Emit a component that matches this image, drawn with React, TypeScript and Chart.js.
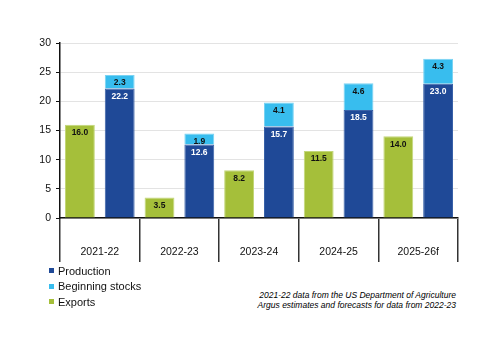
import React, { useEffect, useRef } from "react";
import { Chart, registerables } from "chart.js";

Chart.register(...registerables);

const categories = ["2021-22", "2022-23", "2023-24", "2024-25", "2025-26f"];
const exportsData = [16.0, 3.5, 8.2, 11.5, 14.0];
const production = [22.2, 12.6, 15.7, 18.5, 23.0];
const beginningStocks = [2.3, 1.9, 4.1, 4.6, 4.3];
const yTicks = [0, 5, 10, 15, 20, 25, 30];

const GREEN = "#a5bf3a";
const DARK = "#1f4997";
const LIGHT = "#38bdee";
const FONT = "'Liberation Sans', Arial, sans-serif";

const labelPlugin = {
  id: "barValueLabels",
  afterDatasetsDraw(chart: any) {
    const ctx = chart.ctx;
    ctx.save();
    ctx.font = `bold 8.5px ${FONT}`;
    ctx.textAlign = "center";
    ctx.textBaseline = "middle";
    chart.data.datasets.forEach((ds: any, i: number) => {
      const meta = chart.getDatasetMeta(i);
      meta.data.forEach((bar: any, j: number) => {
        const v = ds.data[j];
        ctx.fillStyle = ds.labelColor;
        ctx.fillText(v.toFixed(1), bar.x, bar.y + 8);
      });
    });
    ctx.restore();
  },
};

export default function App() {
  const ref = useRef<HTMLCanvasElement>(null);
  useEffect(() => {
    document.body.style.margin = "0";
    const chart = new Chart(ref.current!, {
      type: "bar",
      data: {
        labels: categories,
        datasets: [
          { label: "Exports", data: exportsData, backgroundColor: GREEN, borderColor: "#c3d77a", borderWidth: 1, stack: "a", labelColor: "#111" } as any,
          { label: "Production", data: production, backgroundColor: DARK, borderColor: "#3a62a8", borderWidth: 1, stack: "b", labelColor: "#fff" } as any,
          { label: "Beginning stocks", data: beginningStocks, backgroundColor: LIGHT, borderColor: "#7ad3f3", borderWidth: 1, stack: "b", labelColor: "#111" } as any,
        ],
      },
      options: {
        animation: false,
        responsive: false,
        maintainAspectRatio: false,
        layout: { padding: { top: 43, left: 0, right: 42, bottom: 8 } },
        datasets: { bar: { categoryPercentage: 1.0, barPercentage: 0.75 } },
        plugins: { legend: { display: false }, tooltip: { enabled: false } },
        scales: {
          x: {
            stacked: true,
            offset: true,
            grid: {
              offset: true,
              drawOnChartArea: false,
              drawTicks: true,
              tickLength: 44,
              color: "#333",
              lineWidth: 1.5,
            },
            border: { color: "#111", width: 1.5 },
            ticks: { padding: -16, color: "#111", font: { family: FONT, size: 10.5 } },
            afterFit: (s: any) => { s.height = 44; },
          },
          y: {
            stacked: true,
            min: 0,
            max: 30,
            afterBuildTicks: (s: any) => { s.ticks = yTicks.map((v) => ({ value: v })); },
            grid: { color: "#e3e3e3", lineWidth: 1, tickLength: 4, tickColor: "#111" },
            border: { color: "#111", width: 1.5 },
            ticks: { padding: 5, color: "#111", font: { family: FONT, size: 10.5 } },
            afterFit: (s: any) => { s.width = 60; },
          },
        },
      },
      plugins: [labelPlugin],
    });
    return () => chart.destroy();
  }, []);

  const legendItems = [
    { label: "Production", color: DARK },
    { label: "Beginning stocks", color: LIGHT },
    { label: "Exports", color: GREEN },
  ];

  return (
    <div style={{ position: "relative", width: 500, height: 353, background: "#fff", fontFamily: FONT }}>
      <canvas ref={ref} width={500} height={270} style={{ position: "absolute", left: 0, top: 0 }} />
      <div style={{ position: "absolute", left: 49, top: 263 }}>
        {legendItems.map((it) => (
          <div key={it.label} style={{ display: "flex", alignItems: "center", height: 15.5, fontSize: 11, color: "#111" }}>
            <span style={{ display: "inline-block", width: 5, height: 5, background: it.color, marginRight: 4 }} />
            {it.label}
          </div>
        ))}
      </div>
      <div style={{ position: "absolute", right: 44, top: 291, textAlign: "right", fontStyle: "italic", fontWeight: 400, fontSize: 8.5, lineHeight: "9.5px", color: "#000" }}>
        <div>2021-22 data from the US Department of Agriculture</div>
        <div>Argus estimates and forecasts for data from 2022-23</div>
      </div>
    </div>
  );
}
